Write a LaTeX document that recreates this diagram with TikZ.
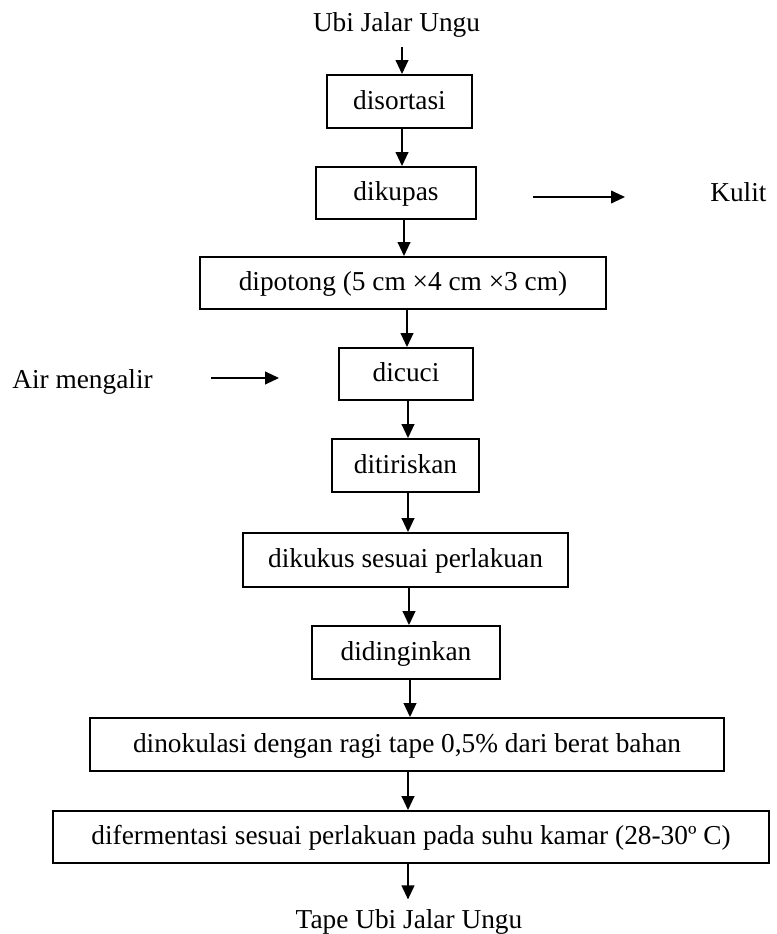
\documentclass[tikz,border=0pt]{standalone}
\usepackage{fontspec}
\setmainfont{Liberation Serif}
\usetikzlibrary{arrows.meta}
\begin{document}
\begin{tikzpicture}[x=0.75pt,y=-0.75pt,
  every node/.style={font=\fontsize{20.5}{24}\selectfont},
  box/.style={draw,line width=1.4pt,inner sep=0pt,text height=15.4pt,text depth=3.5pt},
  lbl/.style={inner sep=0pt,anchor=base},
  sidelbl/.style={inner sep=0pt,anchor=base west},
  arr/.style={line width=1.4pt,-{Triangle[width=9.5pt,length=10.5pt]}}]
\useasboundingbox (0,0) rectangle (776,934);
% labels
\node[lbl] (src) at (396.5,32) {Ubi Jalar Ungu};
\node[lbl] (tape) at (409,928) {Tape Ubi Jalar Ungu};
\node[sidelbl] (kulit) at (710,202) {Kulit};
\node[sidelbl] (air) at (12,388) {Air mengalir};
% boxes
\node[box,minimum width=108.75pt,minimum height=39.75pt] (b1) at (399.5,101.5) {disortasi};
\node[box,minimum width=120pt,minimum height=39pt] (b2) at (396,193) {dikupas};
\node[box,minimum width=304.5pt,minimum height=39pt] (b3) at (403,283) {dipotong (5 cm ×4 cm ×3 cm)};
\node[box,minimum width=100.5pt,minimum height=39pt] (b4) at (406,374) {dicuci};
\node[box,minimum width=110.25pt,minimum height=39.75pt] (b5) at (405.5,465.5) {ditiriskan};
\node[box,minimum width=243.75pt,minimum height=40.5pt] (b6) at (405.5,560) {dikukus sesuai perlakuan};
\node[box,minimum width=141pt,minimum height=39.75pt] (b7) at (406,652.5) {didinginkan};
\node[box,minimum width=475.5pt,minimum height=39.75pt] (b8) at (407,744.5) {dinokulasi dengan ragi tape 0,5\% dari berat bahan};
\node[box,minimum width=537pt,minimum height=39pt] (b9) at (411,837) {difermentasi sesuai perlakuan pada suhu kamar (28-30º C)};
% x positions of the vertical connectors
\coordinate (x0) at (402,0);
\coordinate (x1) at (402,0);
\coordinate (x2) at (404,0);
\coordinate (x3) at (407,0);
\coordinate (x4) at (408,0);
\coordinate (x5) at (408,0);
\coordinate (x6) at (409,0);
\coordinate (x7) at (410,0);
\coordinate (x8) at (408,0);
\coordinate (x9) at (408,0);
\coordinate (kY) at (0,197);
\coordinate (aY) at (0,378);
% vertical connectors
\draw[arr,shorten <=7pt] (src.south -| x0) -- (b1.north -| x0);
\draw[arr] (b1.south -| x1) -- (b2.north -| x1);
\draw[arr] (b2.south -| x2) -- (b3.north -| x2);
\draw[arr] (b3.south -| x3) -- (b4.north -| x3);
\draw[arr] (b4.south -| x4) -- (b5.north -| x4);
\draw[arr] (b5.south -| x5) -- (b6.north -| x5);
\draw[arr] (b6.south -| x6) -- (b7.north -| x6);
\draw[arr] (b7.south -| x7) -- (b8.north -| x7);
\draw[arr] (b8.south -| x8) -- (b9.north -| x8);
\draw[arr,shorten >=7pt] (b9.south -| x9) -- (tape.north -| x9);
% side connectors
\draw[arr,shorten <=42pt,shorten >=63.75pt] (b2.east |- kY) -- (kulit.west |- kY);
\draw[arr,shorten <=43.5pt,shorten >=44.25pt] (air.east |- aY) -- (b4.west |- aY);
\end{tikzpicture}
\end{document}
